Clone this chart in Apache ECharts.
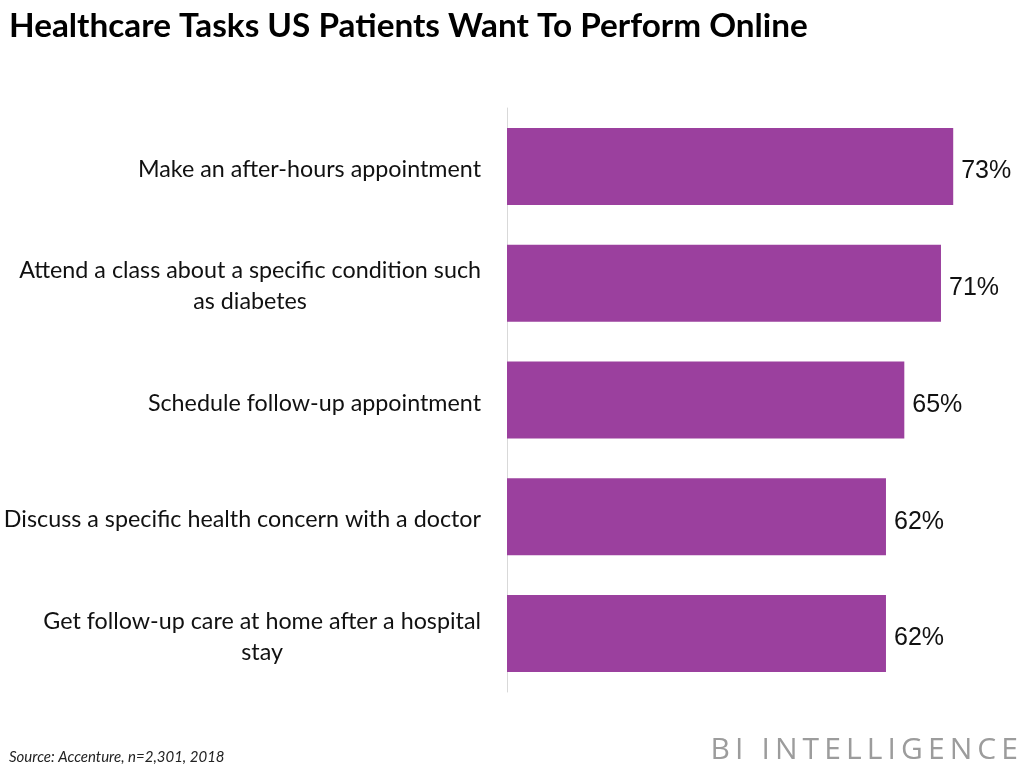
<!DOCTYPE html>
<html>
<head>
<meta charset="utf-8">
<script src="https://cdn.jsdelivr.net/npm/echarts@6/dist/echarts.min.js"></script>
<style>html,body{margin:0;padding:0;background:#fff}#c{width:1024px;height:768px}</style>
</head>
<body>
<div id="c"></div>
<script>
const categories = [
  "Make an after-hours appointment",
  "Attend a class about a specific condition such\nas diabetes",
  "Schedule follow-up appointment",
  "Discuss a specific health concern with a doctor",
  "Get follow-up care at home after a hospital\nstay"
];
const values = [73, 71, 65, 62, 62];
const titleText = "Healthcare Tasks US Patients Want To Perform Online";
const sourceText = "Source: Accenture, n=2,301, 2018";
const brandText = "BI INTELLIGENCE";

const chart = echarts.init(document.getElementById('c'));
const labelFont = 'Lato, "Open Sans", sans-serif';
const brandRich = brandText.split('').map(ch => '{b|' + ch + '}').join('');
chart.setOption({
  animation: false,
  backgroundColor: '#fff',
  title: [
    { text: titleText, left: 4, top: 5,
      textStyle: { fontFamily: labelFont, fontWeight: 'bold', fontSize: 33.3, color: '#000' } },
    { text: sourceText, left: 4, top: 745,
      textStyle: { fontFamily: labelFont, fontStyle: 'italic', fontWeight: 'normal', fontSize: 15, color: '#222' } },
    { text: brandRich, right: 1, top: 730,
      textStyle: { fontWeight: 'normal', rich: { b: { fontFamily: '"Open Sans", sans-serif', fontWeight: 'normal', fontSize: 30, color: '#9c9c9c', padding: [0, 5.1, 0, 0] } } } }
  ],
  grid: { left: 507, top: 108, height: 584, right: 28, containLabel: false },
  xAxis: { type: 'value', min: 0, max: 80, show: false, splitLine: { show: false } },
  yAxis: {
    type: 'category', inverse: true, data: categories,
    axisLine: { show: true, lineStyle: { color: '#d9d9d9', width: 1 } },
    axisTick: { show: false },
    axisLabel: {
      margin: 26,
      padding: [6, 0, 0, 0],
      formatter: function (v) { return v.split('\n').map(l => '{c|' + l + '}').join('\n'); },
      rich: { c: { align: 'center', fontFamily: labelFont, fontSize: 23.3, color: '#111', lineHeight: 31 } }
    }
  },
  series: [{
    type: 'bar', data: values, barWidth: 77,
    itemStyle: { color: '#9b409e' },
    label: { show: true, position: 'right', distance: 8, offset: [0, 5], formatter: '{c}%',
      fontFamily: '"Liberation Sans", Arial, sans-serif', fontSize: 25, color: '#111' }
  }]
});
</script>
</body>
</html>
